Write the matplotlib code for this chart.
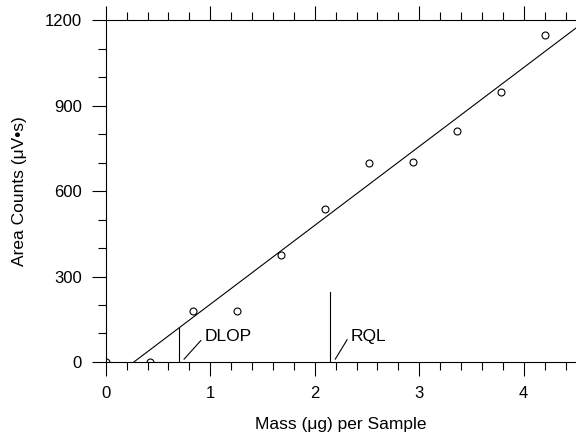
import matplotlib.pyplot as plt
import numpy as np
from matplotlib.ticker import MultipleLocator

plt.rcParams['font.family'] = ['Liberation Sans', 'DejaVu Sans']

# calibration standards
mass = [0.0, 0.42, 0.84, 1.26, 1.68, 2.10, 2.52, 2.94, 3.36, 3.78, 4.20]
area = [0, 0, 178, 178, 377, 538, 700, 703, 811, 948, 1150]

dlop = 0.70
rql = 2.15
rql_top = 247

slope, icpt = np.polyfit(mass, area, 1)

fig = plt.figure(figsize=(5.76, 4.34), dpi=100)
ax = fig.add_axes([0.1835, 0.166, 0.8165, 0.787])

# regression line, starting where it crosses zero
x0 = -icpt / slope
xs = np.array([x0, 4.5])
ax.plot(xs, slope * xs + icpt, color='black', lw=0.8)

ax.plot(mass, area, 'o', mfc='white', mec='black', ms=5, mew=0.8)

# detection limit / reliable quantitation limit markers
ax.plot([dlop, dlop], [0, slope * dlop + icpt], color='black', lw=0.8)
ax.plot([0.75, 0.91], [10, 75], color='black', lw=0.8)
ax.text(0.95, 91, 'DLOP', fontsize=12.5, va='center', ha='left')

ax.plot([rql, rql], [0, rql_top], color='black', lw=0.8)
ax.plot([2.197, 2.31], [10, 78], color='black', lw=0.8)
ax.text(2.34, 91, 'RQL', fontsize=12.5, va='center', ha='left')

ax.set_xlim(0, 4.5)
ax.set_ylim(0, 1200)
ax.xaxis.set_major_locator(MultipleLocator(1))
ax.xaxis.set_minor_locator(MultipleLocator(0.2))
ax.yaxis.set_major_locator(MultipleLocator(300))
ax.yaxis.set_minor_locator(MultipleLocator(100))
ax.tick_params(which='both', direction='out', top=True, right=False,
               labeltop=False, labelsize=12, width=0.8, pad=7)
ax.tick_params(which='major', length=10)
ax.tick_params(which='minor', length=6)
ax.spines['right'].set_visible(False)
for s in ['left', 'bottom', 'top']:
    ax.spines[s].set_linewidth(0.8)

ax.set_xlabel('Mass (μg) per Sample', fontsize=12.5, labelpad=12)
ax.set_ylabel('Area Counts (μV•s)', fontsize=12.5, labelpad=13)

fig.savefig('out.png', dpi=100)
